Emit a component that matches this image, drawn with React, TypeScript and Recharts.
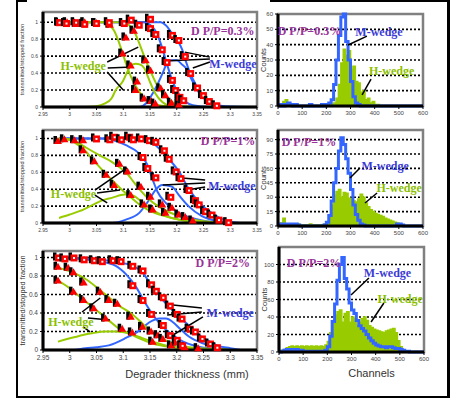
import React from 'react'
import {
  ComposedChart,
  Line,
  Area,
  Scatter,
  XAxis,
  YAxis,
  CartesianGrid,
  ReferenceArea,
  ReferenceLine,
  ReferenceDot,
} from 'recharts'

type P = [number, number]
type Seg = [number, number, number, number]

const SANS = 'Liberation Sans, Arial, sans-serif'
const SERIF = 'Liberation Serif, Times New Roman, serif'
const GREEN = '#99cc00'
const BLUE = '#3366ff'
const RED = '#ff0000'
const PURPLE = '#993399'
const M_TEXT = '#3b3bd6'
const H_TEXT = '#8cbf00'
const FRAME = '#808080'

// axis ticks
const thickTicks = [2.95, 3, 3.05, 3.1, 3.15, 3.2, 3.25, 3.3, 3.35]
const fracTicks = [0, 0.2, 0.4, 0.6, 0.8, 1]
const channelTicks = [0, 100, 200, 300, 400, 500, 600]
const countTicksA = [0, 10, 20, 30, 40, 50, 60]
const countTicksB = [0, 15, 30, 45, 60, 75, 90]
const countTicksC = [0, 20, 40, 60, 80, 100]
const dppLabels = ['D P/P=0.3%', 'D P/P=1%', 'D P/P=2%']

// ---- dP/P = 0.3 % : transmitted / stopped fractions
const hFit1A: P[] = [[2.98, 1], [3.065, 1], [3.075, 0.96], [3.083, 0.9], [3.091, 0.78], [3.099, 0.63], [3.108, 0.46], [3.117, 0.32], [3.13, 0.18], [3.144, 0.08], [3.16, 0.03], [3.18, 0.01], [3.2, 0]]
const hFit2A: P[] = [[2.98, 1], [3.1, 1], [3.11, 0.97], [3.12, 0.9], [3.13, 0.75], [3.142, 0.55], [3.151, 0.42], [3.163, 0.26], [3.176, 0.14], [3.191, 0.06], [3.21, 0.01], [3.25, 0]]
const hStopA: P[] = [[3.03, 0], [3.05, 0.01], [3.065, 0.04], [3.078, 0.1], [3.086, 0.2], [3.099, 0.3], [3.108, 0.42], [3.114, 0.49], [3.123, 0.51], [3.132, 0.5], [3.139, 0.46], [3.151, 0.28], [3.16, 0.16], [3.173, 0.06], [3.19, 0.01], [3.22, 0]]
const mFit1A: P[] = [[2.98, 1], [3.14, 1], [3.15, 0.97], [3.16, 0.9], [3.17, 0.75], [3.176, 0.63], [3.182, 0.5], [3.188, 0.38], [3.195, 0.26], [3.205, 0.14], [3.215, 0.07], [3.23, 0.02], [3.26, 0], [3.35, 0]]
const mFit2A: P[] = [[2.98, 1], [3.17, 1], [3.18, 0.96], [3.19, 0.88], [3.2, 0.8], [3.21, 0.68], [3.218, 0.52], [3.225, 0.4], [3.235, 0.27], [3.245, 0.16], [3.255, 0.09], [3.265, 0.04], [3.28, 0.01], [3.3, 0], [3.35, 0]]
const mStopA: P[] = [[2.98, 0], [3.13, 0], [3.145, 0.06], [3.155, 0.16], [3.165, 0.28], [3.175, 0.42], [3.182, 0.52], [3.19, 0.55], [3.2, 0.55], [3.21, 0.5], [3.218, 0.45], [3.225, 0.36], [3.235, 0.24], [3.245, 0.14], [3.255, 0.08], [3.27, 0.03], [3.29, 0.01], [3.35, 0]]
const hPtsA: P[] = [[2.98, 0.99], [2.995, 1], [3.012, 0.98], [3.028, 1], [3.05, 0.99], [3.075, 0.97], [3.099, 0.63], [3.105, 0.82], [3.114, 0.49], [3.12, 0.9], [3.123, 0.2], [3.126, 0.3], [3.139, 0.1], [3.142, 0.55], [3.151, 0.43], [3.152, 0.07], [3.16, 0.04], [3.17, 0.22], [3.179, 0.14], [3.19, 0.05], [3.204, 0.03]]
const mPtsA: P[] = [[2.98, 1], [2.993, 0.99], [3.011, 1], [3.027, 0.98], [3.049, 0.99], [3.073, 1], [3.101, 0.99], [3.114, 1.03], [3.129, 0.97], [3.15, 1.04], [3.15, 0.93], [3.16, 0.86], [3.172, 0.68], [3.181, 0.53], [3.191, 0.32], [3.197, 0.2], [3.205, 0.12], [3.212, 0.08], [3.191, 0.85], [3.203, 0.79], [3.215, 0.6], [3.225, 0.4], [3.238, 0.23], [3.249, 0.14], [3.26, 0.07], [3.274, 0.02]]

// ---- dP/P = 1 %
const hFit1B: P[] = [[2.98, 1], [3.0, 0.99], [3.015, 0.95], [3.031, 0.89], [3.056, 0.8], [3.077, 0.73], [3.093, 0.66], [3.108, 0.58], [3.12, 0.48], [3.133, 0.38], [3.148, 0.28], [3.167, 0.19], [3.185, 0.13], [3.21, 0.07], [3.24, 0.03], [3.29, 0]]
const hFit2B: P[] = [[2.98, 1], [3.0, 0.98], [3.012, 0.94], [3.025, 0.88], [3.043, 0.75], [3.062, 0.62], [3.077, 0.52], [3.093, 0.42], [3.111, 0.32], [3.13, 0.22], [3.148, 0.15], [3.173, 0.09], [3.204, 0.04], [3.24, 0.01], [3.28, 0]]
const hStopB: P[] = [[2.98, 0.06], [3.0, 0.1], [3.018, 0.14], [3.045, 0.22], [3.062, 0.27], [3.08, 0.3], [3.096, 0.33], [3.108, 0.34], [3.12, 0.32], [3.133, 0.26], [3.148, 0.19], [3.167, 0.11], [3.191, 0.06], [3.222, 0.02], [3.26, 0]]
const mFit1B: P[] = [[2.98, 1], [3.06, 1], [3.08, 0.98], [3.105, 0.92], [3.13, 0.82], [3.145, 0.69], [3.154, 0.53], [3.164, 0.37], [3.179, 0.24], [3.204, 0.12], [3.241, 0.04], [3.27, 0.01], [3.3, 0]]
const mFit2B: P[] = [[2.98, 1], [3.13, 1], [3.15, 0.97], [3.167, 0.88], [3.185, 0.76], [3.204, 0.61], [3.222, 0.41], [3.241, 0.25], [3.265, 0.12], [3.296, 0.02], [3.32, 0], [3.35, 0]]
const mStopB: P[] = [[2.98, 0], [3.08, 0], [3.105, 0.04], [3.13, 0.12], [3.148, 0.27], [3.16, 0.39], [3.173, 0.45], [3.191, 0.43], [3.204, 0.33], [3.222, 0.2], [3.247, 0.08], [3.278, 0.02], [3.315, 0], [3.35, 0]]
const hPtsB: P[] = [[2.978, 0.97], [2.99, 0.99], [3.009, 0.98], [3.025, 0.98], [3.025, 0.86], [3.046, 0.73], [3.068, 0.57], [3.083, 0.45], [3.093, 0.7], [3.108, 0.61], [3.114, 0.33], [3.133, 0.43], [3.139, 0.22], [3.151, 0.31], [3.155, 0.16], [3.173, 0.22], [3.179, 0.12], [3.191, 0.18], [3.204, 0.1], [3.216, 0.07], [3.23, 0.03]]
const mPtsB: P[] = [[3.049, 1], [3.074, 0.99], [3.083, 1.02], [3.096, 0.99], [3.111, 1.02], [3.118, 0.99], [3.133, 1], [3.148, 0.98], [3.16, 0.96], [3.176, 0.86], [3.185, 0.76], [3.136, 0.78], [3.145, 0.65], [3.16, 0.54], [3.198, 0.61], [3.207, 0.53], [3.188, 0.31], [3.222, 0.39], [3.234, 0.27], [3.241, 0.22], [3.253, 0.14], [3.265, 0.1], [3.278, 0.04], [3.296, 0.01]]

// ---- dP/P = 2 %
const hFit1C: P[] = [[2.978, 0.89], [3.004, 0.84], [3.029, 0.77], [3.054, 0.66], [3.073, 0.57], [3.092, 0.48], [3.111, 0.41], [3.13, 0.32], [3.149, 0.21], [3.168, 0.14], [3.193, 0.07], [3.224, 0.03], [3.269, 0.01], [3.3, 0]]
const hFit2C: P[] = [[2.978, 0.75], [2.997, 0.68], [3.016, 0.59], [3.035, 0.5], [3.054, 0.41], [3.073, 0.32], [3.092, 0.23], [3.111, 0.18], [3.13, 0.125], [3.155, 0.07], [3.193, 0.03], [3.243, 0.01], [3.28, 0]]
const hStopC: P[] = [[2.978, 0.09], [3.01, 0.14], [3.041, 0.18], [3.067, 0.2], [3.086, 0.2], [3.111, 0.18], [3.13, 0.14], [3.155, 0.09], [3.187, 0.04], [3.224, 0.02], [3.269, 0.01], [3.3, 0]]
const mFit1C: P[] = [[2.978, 1], [3.054, 0.98], [3.086, 0.95], [3.117, 0.91], [3.136, 0.84], [3.149, 0.73], [3.161, 0.64], [3.174, 0.54], [3.187, 0.46], [3.2, 0.38], [3.218, 0.29], [3.237, 0.18], [3.256, 0.11], [3.275, 0.05], [3.3, 0.02], [3.32, 0], [3.35, 0]]
const mFit2C: P[] = [[2.978, 1], [3.054, 0.96], [3.086, 0.91], [3.105, 0.82], [3.124, 0.68], [3.142, 0.5], [3.158, 0.36], [3.174, 0.25], [3.193, 0.16], [3.212, 0.09], [3.237, 0.04], [3.269, 0.01], [3.3, 0]]
const mStopC: P[] = [[2.978, 0], [3.007, 0], [3.029, 0.02], [3.05, 0.03], [3.073, 0.05], [3.105, 0.13], [3.13, 0.21], [3.149, 0.3], [3.168, 0.34], [3.18, 0.34], [3.193, 0.3], [3.206, 0.23], [3.224, 0.14], [3.25, 0.07], [3.281, 0.02], [3.32, 0], [3.35, 0]]
const hPtsC: P[] = [[2.978, 0.9], [2.978, 0.75], [2.997, 0.89], [3.007, 0.84], [3.007, 0.63], [3.026, 0.73], [3.026, 0.54], [3.045, 0.45], [3.057, 0.63], [3.067, 0.34], [3.073, 0.54], [3.089, 0.5], [3.098, 0.23], [3.114, 0.36], [3.117, 0.19], [3.136, 0.25], [3.152, 0.2], [3.155, 0.09], [3.165, 0.16], [3.174, 0.12], [3.19, 0.05], [3.2, 0.08], [3.215, 0.03], [3.24, 0.02]]
const mPtsC: P[] = [[2.978, 1], [2.99, 0.99], [3.007, 1], [3.026, 0.98], [3.045, 0.97], [3.06, 0.96], [3.08, 0.97], [3.095, 0.96], [3.117, 0.91], [3.136, 0.86], [3.117, 0.7], [3.152, 0.71], [3.136, 0.54], [3.161, 0.64], [3.174, 0.57], [3.187, 0.48], [3.152, 0.39], [3.2, 0.39], [3.209, 0.34], [3.174, 0.27], [3.187, 0.16], [3.224, 0.23], [3.234, 0.2], [3.247, 0.125], [3.2, 0.11], [3.262, 0.07], [3.21, 0.05], [3.275, 0.03]]

// ---- channel spectra (10-channel bins)
const channels = [0, 10, 20, 30, 40, 50, 60, 70, 80, 90, 100, 110, 120, 130, 140, 150, 160, 170, 180, 190, 200, 210, 220, 230, 240, 250, 260, 270, 280, 290, 300, 310, 320, 330, 340, 350, 360, 370, 380, 390, 400, 410, 420, 430, 440, 450, 460, 470, 480, 490, 500, 510, 520, 530, 540, 550, 560, 570, 580, 590, 600]
const mCountsA = [0, 1, 0, 1, 2, 1, 0, 1, 0, 0, 0, 0, 0, 1, 0, 0, 0, 0, 1, 0, 1, 2, 4, 14, 30, 46, 58, 60, 42, 30, 16, 6, 2, 1, 0, 0, 0, 0, 0, 0, 0, 0, 0, 0, 0, 0, 0, 0, 0, 0, 0, 0, 0, 0, 0, 0, 0, 0, 0, 0, 0]
const hCountsA = [1, 1, 3, 4, 2, 1, 1, 0, 0, 0, 0, 0, 0, 1, 0, 0, 0, 0, 0, 0, 0, 0, 1, 2, 5, 14, 28, 37, 33, 36, 24, 26, 16, 15, 9, 10, 4, 5, 2, 3, 1, 1, 0, 0, 0, 0, 0, 0, 0, 0, 0, 0, 0, 0, 0, 0, 0, 0, 0, 0, 0]
const mCountsB = [1, 2, 1, 2, 1, 2, 1, 2, 1, 0, 0, 0, 0, 0, 0, 0, 0, 0, 0, 1, 4, 11, 26, 45, 60, 78, 92, 85, 70, 55, 38, 22, 12, 6, 2, 1, 0, 0, 0, 0, 0, 0, 0, 0, 0, 0, 0, 0, 0, 2, 2, 1, 0, 0, 0, 0, 0, 0, 0, 0, 0]
const hCountsB = [2, 3, 8, 2, 1, 2, 1, 1, 2, 1, 1, 1, 1, 2, 1, 1, 1, 1, 1, 2, 4, 10, 22, 32, 36, 38, 30, 35, 34, 29, 28, 26, 25, 28, 33, 30, 24, 20, 17, 15, 13, 12, 11, 10, 8, 7, 6, 5, 4, 3, 1, 0, 0, 0, 0, 0, 0, 0, 0, 0, 0]
const mCountsC = [0, 1, 2, 3, 2, 3, 2, 3, 2, 2, 1, 1, 1, 1, 1, 1, 1, 1, 1, 2, 6, 18, 35, 55, 82, 100, 108, 84, 72, 56, 48, 44, 36, 30, 27, 24, 20, 16, 13, 10, 8, 7, 6, 6, 5, 6, 6, 5, 4, 4, 3, 2, 1, 1, 0, 0, 0, 0, 0, 0, 0]
const hCountsC = [1, 2, 3, 5, 6, 7, 6, 7, 6, 7, 6, 7, 6, 7, 6, 7, 6, 7, 6, 8, 12, 22, 34, 42, 46, 48, 34, 44, 46, 34, 40, 38, 30, 34, 38, 40, 36, 30, 28, 26, 25, 24, 23, 22, 24, 25, 26, 27, 22, 13, 6, 2, 1, 0, 0, 0, 0, 0, 0, 0, 0]

const toXY = (a: P[]) => a.map(([x, y]) => ({ x, y }))

function Tri(props: any) {
  const { cx, cy } = props
  if (typeof cx !== 'number' || typeof cy !== 'number') return <g />
  return (
    <g>
      <rect x={cx - 4.5} y={cy - 5} width={3.5} height={8} fill="#000" />
      <polygon points={`${cx},${cy - 4} ${cx + 4},${cy + 3} ${cx - 4},${cy + 3}`} fill={RED} />
    </g>
  )
}

function Sq(props: any) {
  const { cx, cy } = props
  if (typeof cx !== 'number' || typeof cy !== 'number') return <g />
  return (
    <g>
      <rect x={cx - 5} y={cy - 5} width={3.5} height={8} fill="#000" />
      <rect x={cx - 3} y={cy - 3} width={7} height={7} fill={RED} />
      <rect x={cx - 0.5} y={cy - 0.5} width={2} height={2} fill="#fff" />
    </g>
  )
}

function note(value: string, at: P, color: string) {
  return (
    <ReferenceDot
      x={at[0]}
      y={at[1]}
      r={0}
      fill="none"
      stroke="none"
      ifOverflow="visible"
      label={{ value, position: 'center', fill: color, fontSize: 12, fontWeight: 'bold', fontFamily: SERIF }}
    />
  )
}

function arrows(segs: Seg[]) {
  return segs.map((s, i) => (
    <ReferenceLine
      key={i}
      segment={[{ x: s[0], y: s[1] }, { x: s[2], y: s[3] }]}
      stroke="#000"
      strokeWidth={1.5}
      ifOverflow="visible"
    />
  ))
}

type FracPanel = {
  top: number
  height: number
  plotTop: number
  xAxisH: number
  yMax: number
  tickSize: number
  h1: P[]
  h2: P[]
  hStop: P[]
  m1: P[]
  m2: P[]
  mStop: P[]
  hPts: P[]
  mPts: P[]
  dpp: string
  dppAt: P
  mAt: P
  hAt: P
  mSegs: Seg[]
  hSegs: Seg[]
  xTitle?: string
}

function FractionChart(p: FracPanel) {
  const curve = (d: P[], color: string, key: string) => (
    <Line key={key} data={toXY(d)} dataKey="y" type="monotone" stroke={color} strokeWidth={2} dot={false} isAnimationActive={false} />
  )
  return (
    <div style={{ position: 'absolute', left: 0, top: p.top }}>
      <ComposedChart width={270} height={p.height} margin={{ top: p.plotTop, right: 13, left: 0, bottom: 0 }}>
        <ReferenceArea x1={2.95} x2={3.35} y1={0} y2={p.yMax} fill="#fff" fillOpacity={0} stroke={FRAME} strokeWidth={2.5} />
        <CartesianGrid vertical={false} stroke="#000" strokeDasharray="2 2" strokeWidth={1.6} />
        <XAxis
          type="number"
          dataKey="x"
          domain={[2.95, 3.35]}
          ticks={thickTicks}
          interval={0}
          height={p.xAxisH}
          axisLine={{ stroke: '#000', strokeWidth: 3 }}
          tickLine={{ stroke: '#000' }}
          tickSize={3}
          tick={{ fontSize: p.tickSize, fill: '#444', fontFamily: SANS }}
          label={p.xTitle ? { value: p.xTitle, position: 'insideBottom', offset: 12, dx: 37, fontSize: 11, fill: '#333', fontFamily: SANS } : undefined}
        />
        <YAxis
          type="number"
          domain={[0, p.yMax]}
          ticks={fracTicks}
          interval={0}
          width={43}
          axisLine={{ stroke: '#000', strokeWidth: 3 }}
          tickLine={{ stroke: '#000' }}
          tickSize={3}
          tick={{ fontSize: p.tickSize, fill: '#444', fontFamily: SANS }}
          label={{ value: 'transmitted/stopped fraction', angle: -90, position: 'insideLeft', offset: 22, style: { textAnchor: 'middle' }, fontSize: p.tickSize + 0.8, fill: '#333', fontFamily: SANS }}
        />
        {curve(p.mStop, BLUE, 'ms')}
        {curve(p.m1, BLUE, 'm1')}
        {curve(p.m2, BLUE, 'm2')}
        {curve(p.hStop, GREEN, 'hs')}
        {curve(p.h1, GREEN, 'h1')}
        {curve(p.h2, GREEN, 'h2')}
        <Scatter data={toXY(p.hPts)} dataKey="y" shape={Tri} isAnimationActive={false} />
        <Scatter data={toXY(p.mPts)} dataKey="y" shape={Sq} isAnimationActive={false} />
        {arrows(p.mSegs)}
        {arrows(p.hSegs)}
        {note(p.dpp, p.dppAt, PURPLE)}
        {note('M-wedge', p.mAt, M_TEXT)}
        {note('H-wedge', p.hAt, H_TEXT)}
      </ComposedChart>
    </div>
  )
}

type SpecPanel = {
  left: number
  top: number
  height: number
  plotTop: number
  xAxisH: number
  yMax: number
  yTicks: number[]
  m: number[]
  h: number[]
  dpp: string
  dppAt: P
  mAt: P
  hAt: P
  mSegs: Seg[]
  hSegs: Seg[]
  xTitle?: string
}

function SpectrumChart(p: SpecPanel) {
  const rows = channels.map((ch, i) => ({ ch, m: p.m[i], h: p.h[i] }))
  return (
    <div style={{ position: 'absolute', left: p.left, top: p.top }}>
      <ComposedChart width={180} height={p.height} data={rows} margin={{ top: p.plotTop, right: 7, left: 0, bottom: 0 }}>
        <ReferenceArea x1={0} x2={600} y1={0} y2={p.yMax} fill="#fff" fillOpacity={0} stroke={FRAME} strokeWidth={2.5} />
        <CartesianGrid vertical={false} stroke="#000" strokeDasharray="2 2" strokeWidth={1.6} />
        <XAxis
          type="number"
          dataKey="ch"
          domain={[0, 600]}
          ticks={channelTicks}
          interval={0}
          height={p.xAxisH}
          axisLine={{ stroke: '#000', strokeWidth: 3 }}
          tickLine={{ stroke: '#000' }}
          tickSize={3}
          tick={{ fontSize: 6, fill: '#444', fontFamily: SANS }}
          label={p.xTitle ? { value: p.xTitle, position: 'insideBottom', offset: 13, dx: 20, fontSize: 11, fill: '#333', fontFamily: SANS } : undefined}
        />
        <YAxis
          type="number"
          domain={[0, p.yMax]}
          ticks={p.yTicks}
          interval={0}
          width={28}
          axisLine={{ stroke: '#000', strokeWidth: 3 }}
          tickLine={{ stroke: '#000' }}
          tickSize={3}
          tick={{ fontSize: 6, fill: '#444', fontFamily: SANS }}
          label={{ value: 'Counts', angle: -90, position: 'insideLeft', offset: 13, style: { textAnchor: 'middle' }, fontSize: 7.5, fill: '#333', fontFamily: SANS }}
        />
        <Area dataKey="h" type="stepAfter" stroke={GREEN} strokeWidth={1.5} fill={GREEN} fillOpacity={1} dot={false} isAnimationActive={false} />
        <Line dataKey="m" type="stepAfter" stroke={BLUE} strokeWidth={3} dot={false} isAnimationActive={false} />
        {arrows(p.mSegs)}
        {arrows(p.hSegs)}
        {note(p.dpp, p.dppAt, PURPLE)}
        {note('M-wedge', p.mAt, M_TEXT)}
        {note('H-wedge', p.hAt, H_TEXT)}
      </ComposedChart>
    </div>
  )
}

const line = (style: React.CSSProperties) => <div style={{ position: 'absolute', background: '#000', ...style }} />

export default function App() {
  return (
    <div style={{ position: 'absolute', left: 0, top: 0, width: 463, height: 404, background: '#fff', overflow: 'hidden' }}>
      {line({ left: 16, top: 0, width: 2, height: 398 })}
      {line({ left: 16, top: 396, width: 434, height: 2 })}
      {line({ left: 447, top: 0, width: 3, height: 398 })}
      {line({ left: 16, top: 0, width: 11, height: 2 })}
      {line({ left: 270, top: 0, width: 180, height: 2 })}

      <FractionChart
        top={0} height={120} plotTop={12} xAxisH={13} yMax={1.12} tickSize={5}
        h1={hFit1A} h2={hFit2A} hStop={hStopA} m1={mFit1A} m2={mFit2A} mStop={mStopA}
        hPts={hPtsA} mPts={mPtsA}
        dpp={dppLabels[0]} dppAt={[3.286, 0.894]} mAt={[3.305, 0.506]} hAt={[3.025, 0.482]}
        mSegs={[[3.262, 0.588, 3.215, 0.647], [3.262, 0.565, 3.174, 0.541], [3.262, 0.53, 3.23, 0.459]]}
        hSegs={[[3.07, 0.53, 3.128, 0.706], [3.071, 0.459, 3.118, 0.471], [3.07, 0.412, 3.1, 0.2]]}
      />
      <FractionChart
        top={118} height={120} plotTop={12} xAxisH={15} yMax={1.1} tickSize={5}
        h1={hFit1B} h2={hFit2B} hStop={hStopB} m1={mFit1B} m2={mFit2B} mStop={mStopB}
        hPts={hPtsB} mPts={mPtsB}
        dpp={dppLabels[1]} dppAt={[3.296, 0.97]} mAt={[3.303, 0.438]} hAt={[3.007, 0.343]}
        mSegs={[[3.253, 0.509, 3.21, 0.533], [3.253, 0.473, 3.174, 0.45], [3.253, 0.426, 3.219, 0.39]]}
        hSegs={[[3.047, 0.39, 3.107, 0.651], [3.051, 0.355, 3.094, 0.39], [3.047, 0.331, 3.07, 0.237]]}
      />
      <FractionChart
        top={240} height={150} plotTop={11} xAxisH={40} yMax={1.07} tickSize={6.5}
        h1={hFit1C} h2={hFit2C} hStop={hStopC} m1={mFit1C} m2={mFit2C} mStop={mStopC}
        hPts={hPtsC} mPts={mPtsC}
        dpp={dppLabels[2]} dppAt={[3.286, 0.94]} mAt={[3.3, 0.4]} hAt={[3.002, 0.303]}
        mSegs={[[3.247, 0.454, 3.193, 0.486], [3.247, 0.411, 3.182, 0.378], [3.249, 0.357, 3.193, 0.162]]}
        hSegs={[[3.023, 0.411, 3.057, 0.562], [3.034, 0.346, 3.075, 0.324], [3.025, 0.249, 3.038, 0.195]]}
        xTitle="Degrader thickness (mm)"
      />

      <SpectrumChart
        left={250} top={0} height={118} plotTop={14} xAxisH={12} yMax={60} yTicks={countTicksA}
        m={mCountsA} h={hCountsA}
        dpp={dppLabels[0]} dppAt={[130, 48.9]} mAt={[418, 48.6]} hAt={[470, 23.1]}
        mSegs={[[368, 45.6, 290, 39.8]]}
        hSegs={[[385, 17.6, 348, 7.2]]}
      />
      <SpectrumChart
        left={250} top={118} height={120} plotTop={12} xAxisH={12} yMax={100} yTicks={countTicksB}
        m={mCountsB} h={hCountsB}
        dpp={dppLabels[1]} dppAt={[128, 87.5]} mAt={[443, 62.5]} hAt={[501, 39.6]}
        mSegs={[[339, 60.4, 298, 50]]}
        hSegs={[[410, 34.4, 360, 24]]}
      />
      <SpectrumChart
        left={251} top={238} height={152} plotTop={9} xAxisH={38} yMax={120} yTicks={countTicksC}
        m={mCountsC} h={hCountsC}
        dpp={dppLabels[2]} dppAt={[145, 101.7]} mAt={[449, 90.3]} hAt={[501, 60.6]}
        mSegs={[[372, 84.6, 298, 65.2]]}
        hSegs={[[434, 56, 381, 34.3]]}
        xTitle="Channels"
      />
    </div>
  )
}
